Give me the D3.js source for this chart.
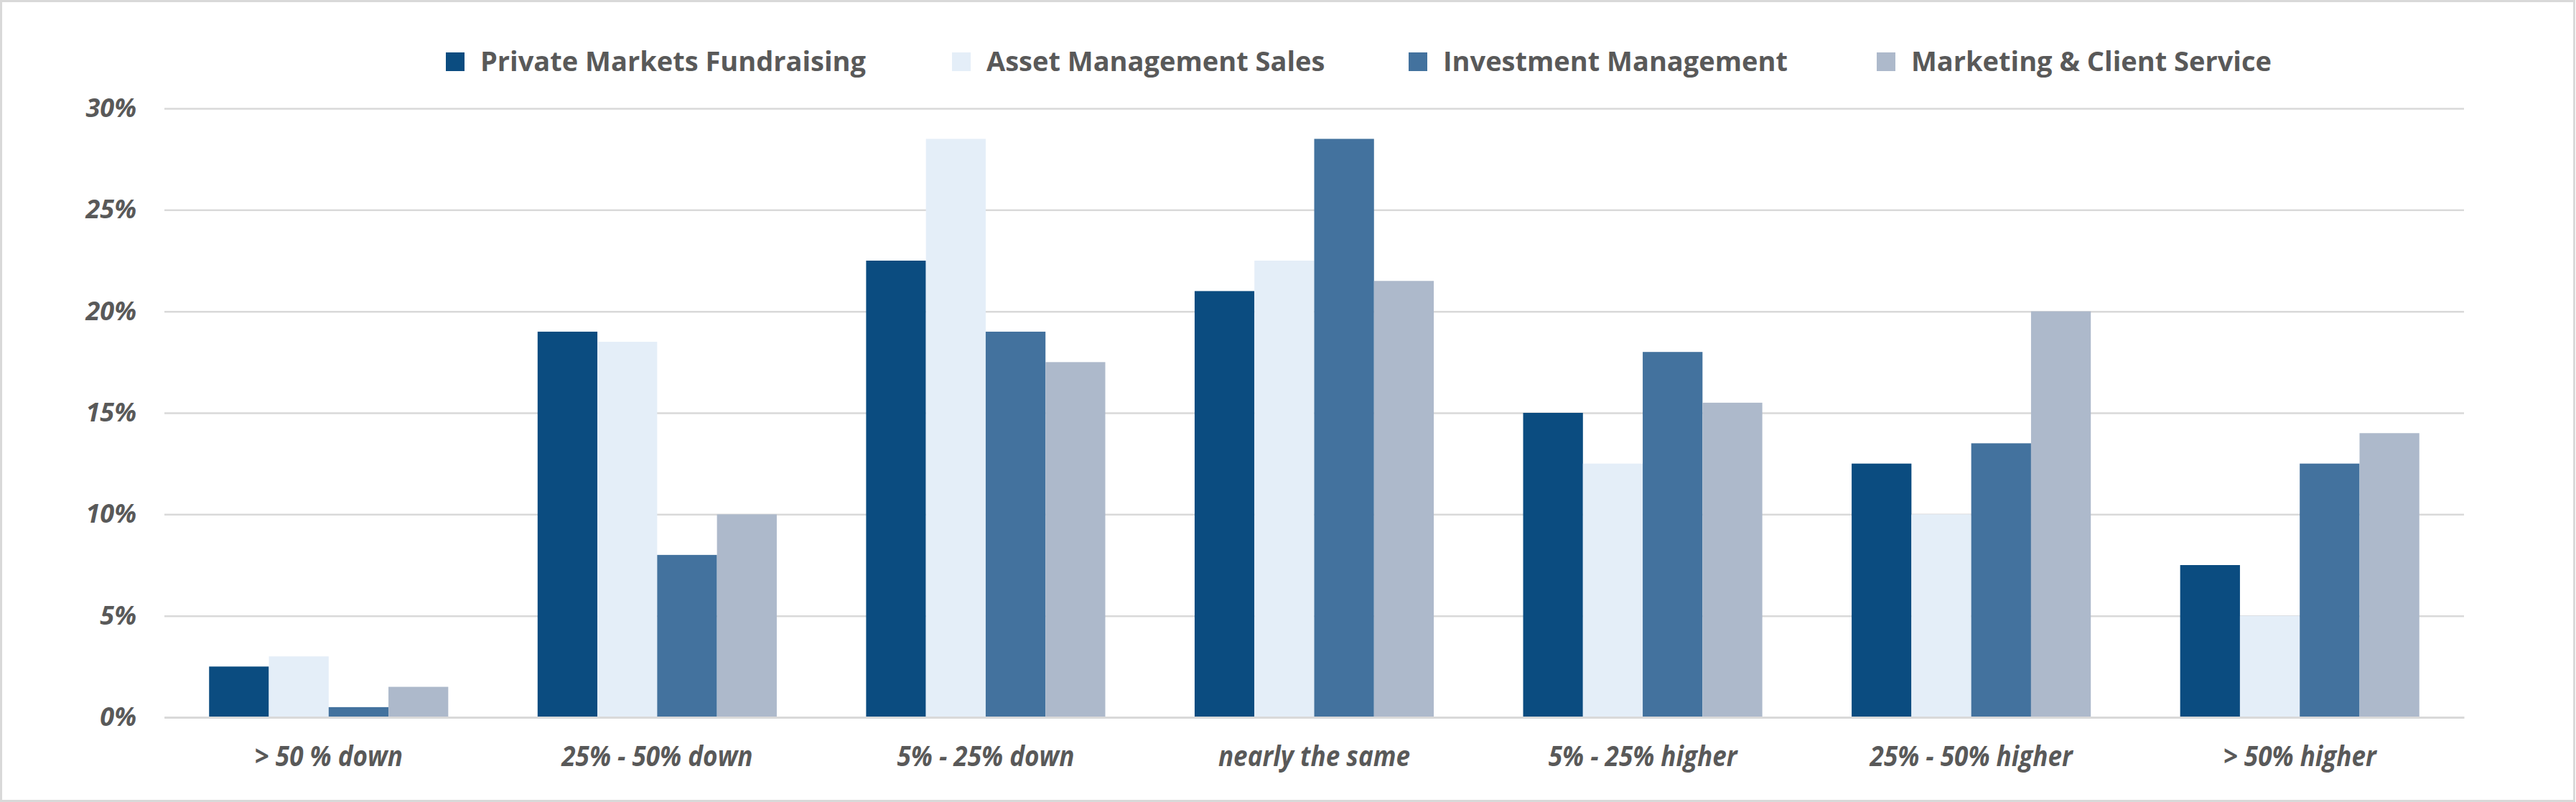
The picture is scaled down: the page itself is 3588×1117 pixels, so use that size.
<!DOCTYPE html>
<html><head><meta charset="utf-8">
<script src="https://cdn.jsdelivr.net/npm/d3@7"></script>
<style>
html,body{margin:0;padding:0;background:#fff;}
svg{display:block;}
</style></head>
<body>
<svg id="chart" width="3588" height="1117"></svg>
<script>
const categories = ["> 50 % down","25% - 50% down","5% - 25% down","nearly the same","5% - 25% higher","25% - 50% higher","> 50% higher"];
const seriesNames = ["Private Markets Fundraising","Asset Management Sales","Investment Management","Marketing & Client Service"];
const privateMarkets = [2.5,19,22.5,21,15,12.5,7.5];
const assetMgmtSales = [3,18.5,28.5,22.5,12.5,10,5];
const investmentMgmt = [0.5,8,19,28.5,18,13.5,12.5];
const marketingClient = [1.5,10,17.5,21.5,15.5,20,14];
const yTicks = [0,5,10,15,20,25,30];
const colors = ["#0b4c80","#e4eef8","#43729e","#adb9cb"];

const seriesValues = [privateMarkets, assetMgmtSales, investmentMgmt, marketingClient];
const svg = d3.select("#chart");
const W = 3588, H = 1117;
const plot = {left:229, right:3432, top:151, bottom:999};

// border
svg.append("rect").attr("x",1.5).attr("y",1.5).attr("width",W-4).attr("height",H-3)
  .attr("fill","#fff").attr("stroke","#d9d9d9").attr("stroke-width",3);

const x = d3.scaleBand().domain(categories).range([plot.left, plot.right]).paddingInner(0).paddingOuter(0);
const groupFrac = 0.728;
const xs = d3.scaleBand().domain(seriesNames).range([0, x.bandwidth()*groupFrac]).padding(0);
const y = d3.scaleLinear().domain([0,30]).range([plot.bottom, plot.top]);

// gridlines + y labels
const yAxis = d3.axisLeft(y).tickValues(yTicks).tickFormat(d => d + "%")
  .tickSize(-(plot.right-plot.left)).tickPadding(39);
const gy = svg.append("g").attr("transform",`translate(${plot.left},0)`).call(yAxis);
gy.select(".domain").remove();
gy.selectAll(".tick line").attr("stroke","#d9d9d9").attr("stroke-width",2.5);
gy.selectAll(".tick text").attr("fill","#595959")
  .style("font-family","'Open Sans', sans-serif").style("font-weight","bold")
  .style("font-style","italic").style("font-size","36px");

// bars
const groups = svg.append("g").selectAll("g").data(categories).join("g")
  .attr("transform", d => `translate(${x(d) + (x.bandwidth()*(1-groupFrac))/2},0)`);
groups.selectAll("rect").data((c,i) => seriesNames.map((s,j) => ({s, v: seriesValues[j][i], j})))
  .join("rect")
  .attr("x", d => xs(d.s)).attr("width", xs.bandwidth())
  .attr("y", d => y(d.v)).attr("height", d => y(0) - y(d.v))
  .attr("fill", d => colors[d.j]);

// baseline axis
const xAxis = d3.axisBottom(x).tickSize(0).tickPadding(0);
const gx = svg.append("g").attr("transform",`translate(0,${plot.bottom})`).call(xAxis);
gx.select(".domain").attr("stroke","#d9d9d9").attr("stroke-width",3);
gx.selectAll(".tick text").attr("fill","#595959").attr("y",68).attr("dy","0")
  .attr("transform","scale(0.9,1)")
  .style("font-family","'Open Sans', sans-serif").style("font-weight","bold")
  .style("font-style","italic").style("font-size","39px");

// legend
const legendX = [621, 1326, 1962, 2614];
const lg = svg.append("g").selectAll("g").data(seriesNames).join("g")
  .attr("transform",(d,i)=>`translate(${legendX[i]},86)`);
lg.append("rect").attr("x",0).attr("y",-13).attr("width",26).attr("height",26).attr("fill",(d,i)=>colors[i]);
lg.append("text").attr("x",48).attr("y",0).attr("dy","0.35em").text(d=>d)
  .attr("fill","#595959").style("font-family","'Open Sans', sans-serif").style("font-weight","bold")
  .style("font-size","38px");
</script>
</body></html>
